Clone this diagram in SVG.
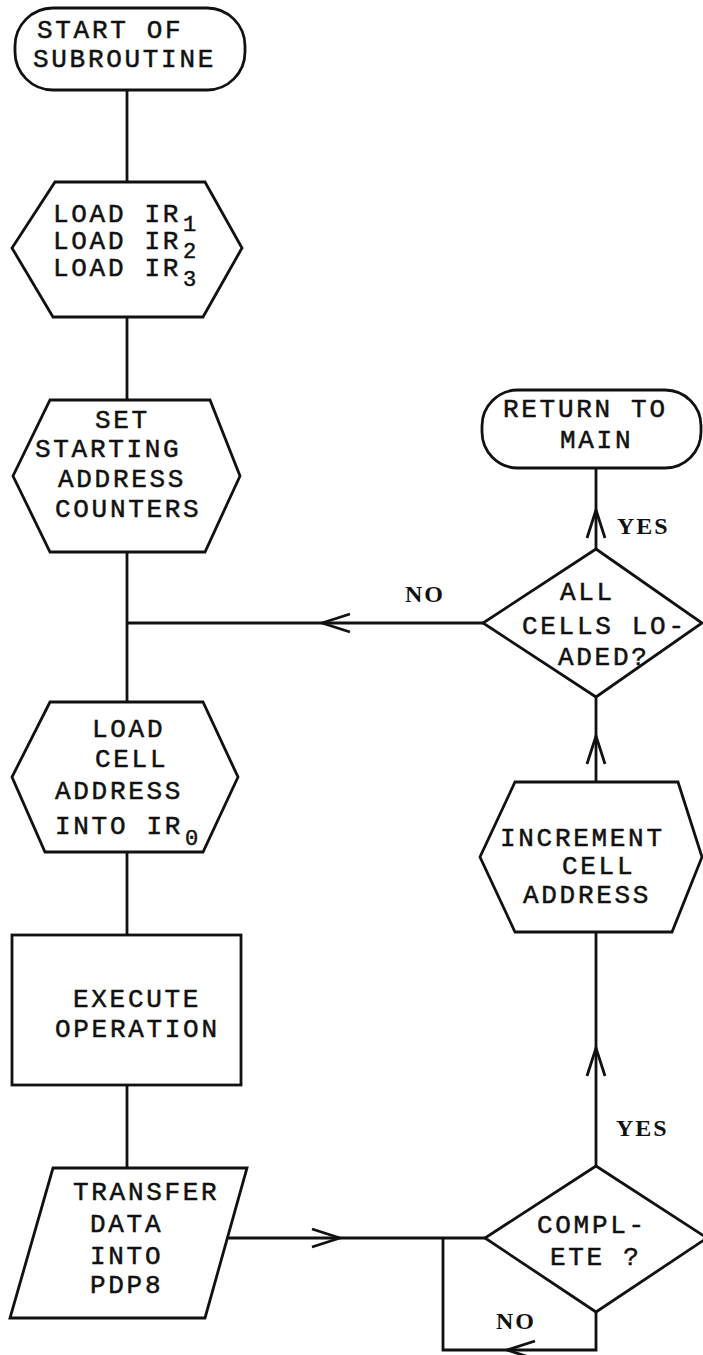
<svg xmlns="http://www.w3.org/2000/svg" width="703" height="1355" viewBox="0 0 703 1355">
<style>
.s{fill:none;stroke:#111;stroke-width:2.8;stroke-linejoin:miter}
.t{font-family:"Liberation Mono","Courier New",monospace;font-size:26px;letter-spacing:2.7px;fill:#111;stroke:#111;stroke-width:0.5}
.sub{font-family:"Liberation Mono","Courier New",monospace;font-size:22px;fill:#111;stroke:#111;stroke-width:0.5}
.l{font-family:"Liberation Serif","Times New Roman",serif;font-size:24px;font-weight:bold;letter-spacing:2px;fill:#111}
.c{fill:none;stroke:#111;stroke-width:2.8}
</style>
<defs>
<marker id="arr" markerUnits="userSpaceOnUse" viewBox="-30 -11 32 22" refX="0" refY="0" markerWidth="32" markerHeight="22" orient="auto">
<path d="M-28,-9 L0,0 L-28,9" fill="none" stroke="#111" stroke-width="2.8"/>
</marker>
</defs>
<rect width="703" height="1355" fill="#fff"/>
<g id="connectors">
<path class="c" d="M127,90 V182 M127,317 V400 M127,552 V702 M127,852 V935 M127,1085 V1168"/>
<path class="c" d="M483,623 H322" marker-end="url(#arr)"/>
<path class="c" d="M322,623 H127"/>
<path class="c" d="M227,1238 H340" marker-end="url(#arr)"/>
<path class="c" d="M340,1238 H485"/>
<path class="c" d="M596,1312 V1350 H507" marker-end="url(#arr)"/>
<path class="c" d="M507,1350 H443 V1238"/>
<path class="c" d="M596,1166 V1048" marker-end="url(#arr)"/>
<path class="c" d="M596,1048 V932"/>
<path class="c" d="M596,782 V736" marker-end="url(#arr)"/>
<path class="c" d="M596,736 V697"/>
<path class="c" d="M596,549 V510" marker-end="url(#arr)"/>
<path class="c" d="M596,510 V468"/>
<text class="l" x="405" y="602">NO</text>
<text class="l" x="617" y="534">YES</text>
<text class="l" x="616" y="1136">YES</text>
<text class="l" x="496" y="1329">NO</text>
</g>
<g id="start">
<rect class="s" x="15" y="8" width="230" height="82" rx="38"/>
<text class="t" x="37" y="38">START OF</text>
<text class="t" x="33" y="67">SUBROUTINE</text>
</g>
<g id="load-ir">
<polygon class="s" points="55,182 205,182 242,248 203,317 53,317 12,248"/>
<text class="t" x="53" y="222">LOAD IR</text><text class="sub" x="183" y="231">1</text>
<text class="t" x="53" y="249">LOAD IR</text><text class="sub" x="183" y="258">2</text>
<text class="t" x="53" y="276">LOAD IR</text><text class="sub" x="183" y="286">3</text>
</g>
<g id="set-start">
<polygon class="s" points="50,400 210,400 240,476 205,552 50,552 13,476"/>
<text class="t" x="95" y="428">SET</text>
<text class="t" x="35" y="457">STARTING</text>
<text class="t" x="58" y="487">ADDRESS</text>
<text class="t" x="55" y="517">COUNTERS</text>
</g>
<g id="load-cell">
<polygon class="s" points="50,702 203,702 238,777 203,852 45,852 12,777"/>
<text class="t" x="92" y="737">LOAD</text>
<text class="t" x="95" y="767">CELL</text>
<text class="t" x="55" y="799">ADDRESS</text>
<text class="t" x="55" y="834">INTO IR</text><text class="sub" x="185" y="845">0</text>
</g>
<g id="execute">
<rect class="s" x="12" y="935" width="229" height="150"/>
<text class="t" x="73" y="1007">EXECUTE</text>
<text class="t" x="55" y="1037">OPERATION</text>
</g>
<g id="transfer">
<polygon class="s" points="53,1168 247,1168 205,1318 10,1318"/>
<text class="t" x="73" y="1200">TRANSFER</text>
<text class="t" x="90" y="1232">DATA</text>
<text class="t" x="90" y="1264">INTO</text>
<text class="t" x="90" y="1293">PDP8</text>
</g>
<g id="return">
<rect class="s" x="482" y="390" width="219" height="78" rx="36"/>
<text class="t" x="503" y="417">RETURN TO</text>
<text class="t" x="560" y="448">MAIN</text>
</g>
<g id="all-loaded">
<polygon class="s" points="596,549 702,623 596,697 483,623"/>
<text class="t" x="560" y="600">ALL</text>
<text class="t" x="522" y="634">CELLS LO-</text>
<text class="t" x="558" y="665">ADED?</text>
</g>
<g id="increment">
<polygon class="s" points="515,782 678,782 702,857 672,932 515,932 480,857"/>
<text class="t" x="500" y="846">INCREMENT</text>
<text class="t" x="562" y="874">CELL</text>
<text class="t" x="523" y="903">ADDRESS</text>
</g>
<g id="complete">
<polygon class="s" points="596,1166 707,1238 596,1312 485,1238"/>
<text class="t" x="537" y="1233">COMPL-</text>
<text class="t" x="550" y="1265">ETE ?</text>
</g>
</svg>
